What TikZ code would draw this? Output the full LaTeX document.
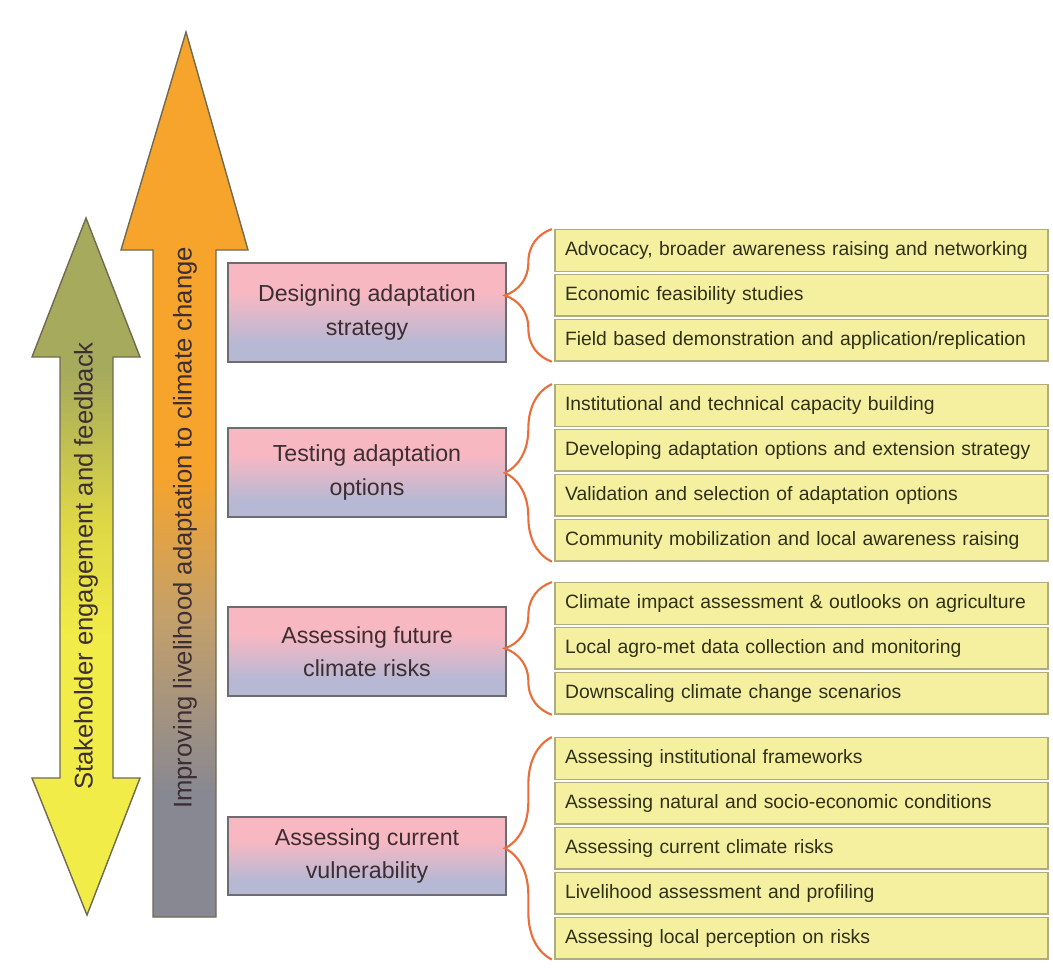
\documentclass[tikz,border=0pt]{standalone}
\usepackage{fontspec}
\setmainfont{Liberation Sans}
\setsansfont{Liberation Sans}
\usetikzlibrary{positioning,decorations.pathreplacing}

\definecolor{arroworange}{RGB}{246,164,44}
\definecolor{arrowtan}{RGB}{196,160,106}
\definecolor{arrowgrey}{RGB}{136,136,146}
\definecolor{arrowolive}{RGB}{166,170,92}
\definecolor{arrowlime}{RGB}{222,216,70}
\definecolor{arrowyellow}{RGB}{242,236,72}
\definecolor{arrowline}{RGB}{112,106,80}
\definecolor{stagepink}{RGB}{248,184,194}
\definecolor{stageblue}{RGB}{182,184,212}
\definecolor{stageline}{RGB}{110,108,112}
\definecolor{stagetext}{RGB}{60,46,50}
\definecolor{taskyellow}{RGB}{245,240,160}
\definecolor{taskline}{RGB}{176,172,130}
\definecolor{tasktext}{RGB}{48,48,24}
\definecolor{bracered}{RGB}{234,110,58}

\pgfdeclareverticalshading{improveshade}{100bp}{color(0bp)=(arrowgrey); color(32bp)=(arrowgrey);
  color(42bp)=(arrowtan); color(50bp)=(arroworange); color(100bp)=(arroworange)}
\pgfdeclareverticalshading{stakeshade}{100bp}{color(0bp)=(arrowyellow); color(45bp)=(arrowyellow);
  color(53bp)=(arrowlime); color(64bp)=(arrowolive); color(100bp)=(arrowolive)}
\pgfdeclareverticalshading{stageshade}{100bp}{color(0bp)=(stageblue); color(34bp)=(stageblue);
  color(60bp)=(stagepink); color(100bp)=(stagepink)}

\begin{document}
\begin{tikzpicture}
  [x=0.02cm,y=-0.02cm,
   font=\sffamily,
   arrowtext/.style={rotate=90,font=\sffamily\fontsize{14.6}{16}\selectfont,text=stagetext},
   stage/.style={draw=stageline,line width=1pt,shading=stageshade,
                 minimum width=5.56cm,align=center,text=stagetext,
                 font=\sffamily\fontsize{13.2}{18.8}\selectfont},
   task/.style={draw=taskline,line width=0.8pt,fill=taskyellow,minimum height=0.83cm,
                text width=9.46cm,inner xsep=0.2cm,align=left,text=tasktext,
                font=\sffamily\fontsize{11}{13}\selectfont},
   brace/.style={decorate,decoration={brace,amplitude=0.94cm,raise=0.05cm},
                 draw=bracered,line width=1.2pt},]

  \useasboundingbox[fill=white] (0,0) rectangle (1053,974);

  % the two long arrows
  \shade[shading=improveshade,draw=arrowline,line width=0.8pt]
    (186,32) -- (248,250) -- (216,250) -- (216,917) -- (153,917) -- (153,250) -- (121,250) -- cycle;
  \shade[shading=stakeshade,draw=arrowline,line width=0.8pt]
    (86,218) -- (140,357) -- (113,357) -- (113,778) -- (140,778) -- (87,915)
    -- (32,778) -- (60,778) -- (60,357) -- (32,357) -- cycle;
  \node[arrowtext] (improve) at (185,528) {Improving livelihood adaptation to climate change};
  \node[arrowtext] (stake) at (86,566) {Stakeholder engagement and feedback};

  % stages
  \node[stage,minimum height=1.98cm] (design) at (367,312.5) {Designing adaptation\\strategy};
  \node[stage,minimum height=1.78cm] (test) at (367,472.5) {Testing adaptation\\options};
  \node[stage,minimum height=1.78cm] (future) at (367,651.5) {Assessing future\\climate risks};
  \node[stage,minimum height=1.56cm] (current) at (367,856) {Assessing current\\vulnerability};

  % tasks
  \node[task] (d1) at (801.5,250.5) {Advocacy, broader awareness raising and networking};
  \node[task,below=0.04cm of d1] (d2) {Economic feasibility studies};
  \node[task,below=0.04cm of d2] (d3) {Field based demonstration and application/replication};

  \node[task] (t1) at (801.5,405.5) {Institutional and technical capacity building};
  \node[task,below=0.04cm of t1] (t2) {Developing adaptation options and extension strategy};
  \node[task,below=0.04cm of t2] (t3) {Validation and selection of adaptation options};
  \node[task,below=0.04cm of t3] (t4) {Community mobilization and local awareness raising};

  \node[task] (f1) at (801.5,603.5) {Climate impact assessment \& outlooks on agriculture};
  \node[task,below=0.04cm of f1] (f2) {Local agro-met data collection and monitoring};
  \node[task,below=0.04cm of f2] (f3) {Downscaling climate change scenarios};

  \node[task] (c1) at (801.5,758.5) {Assessing institutional frameworks};
  \node[task,below=0.04cm of c1] (c2) {Assessing natural and socio-economic conditions};
  \node[task,below=0.04cm of c2] (c3) {Assessing current climate risks};
  \node[task,below=0.04cm of c3] (c4) {Livelihood assessment and profiling};
  \node[task,below=0.04cm of c4] (c5) {Assessing local perception on risks};

  \draw[brace] (d3.south west) -- (d1.north west);
  \draw[brace] (t4.south west) -- (t1.north west);
  \draw[brace] (f3.south west) -- (f1.north west);
  \draw[brace] (c5.south west) -- (c1.north west);

\end{tikzpicture}
\end{document}
